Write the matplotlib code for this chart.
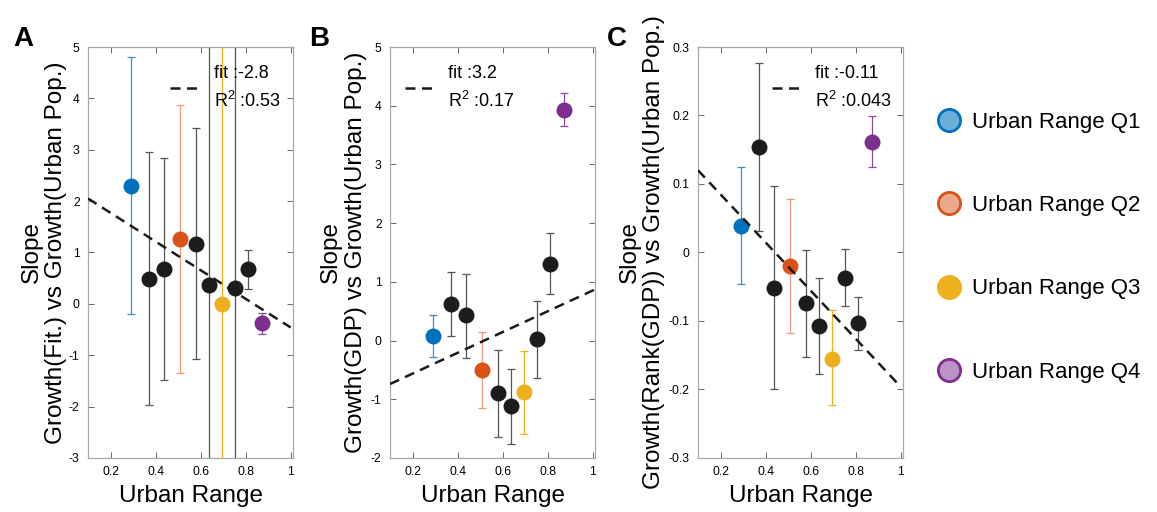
import matplotlib
matplotlib.use('Agg')
import matplotlib.pyplot as plt
from matplotlib.lines import Line2D
from matplotlib.ticker import FuncFormatter

plt.rcParams['font.family'] = ['Liberation Sans', 'DejaVu Sans']
plt.rcParams['axes.unicode_minus'] = False
plt.rcParams['mathtext.default'] = 'regular'

# x position of each bin (urban range) and which quartile it belongs to
urban_x = [0.289, 0.369, 0.437, 0.508, 0.578, 0.637, 0.695, 0.753, 0.809, 0.872]
group = ['Q1', 'n', 'n', 'Q2', 'n', 'n', 'Q3', 'n', 'n', 'Q4']

# panel A: Growth(Fit.) vs Growth(Urban Pop.)
a_y = [2.30, 0.49, 0.67, 1.26, 1.17, 0.37, 0.00, 0.30, 0.67, -0.38]
a_hi = [4.80, 2.96, 2.84, 3.87, 3.42, 9.0, 9.0, 9.0, 1.05, -0.17]
a_lo = [-0.20, -1.96, -1.49, -1.34, -1.08, -9.0, -9.0, -9.0, 0.28, -0.58]
a_fit_x = [0.1, 1.0]
a_fit_y = [2.05, -0.46]

# panel B: Growth(GDP) vs Growth(Urban Pop.)
b_y = [0.08, 0.63, 0.43, -0.50, -0.90, -1.12, -0.88, 0.02, 1.31, 3.93]
b_hi = [0.43, 1.16, 1.13, 0.14, -0.16, -0.49, -0.17, 0.68, 1.83, 4.22]
b_lo = [-0.28, 0.08, -0.29, -1.15, -1.65, -1.76, -1.60, -0.63, 0.79, 3.65]
b_fit_x = [0.1, 1.01]
b_fit_y = [-0.74, 0.87]

# panel C: Growth(Rank(GDP)) vs Growth(Urban Pop.)
c_y = [0.039, 0.154, -0.052, -0.019, -0.074, -0.108, -0.155, -0.037, -0.103, 0.162]
c_hi = [0.125, 0.277, 0.097, 0.078, 0.004, -0.037, -0.084, 0.005, -0.065, 0.199]
c_lo = [-0.046, 0.031, -0.200, -0.117, -0.153, -0.178, -0.223, -0.078, -0.142, 0.125]
c_fit_x = [0.1, 1.0]
c_fit_y = [0.12, -0.196]

fit_labels = ['fit :-2.8\nR$^2$ :0.53', 'fit :3.2\nR$^2$ :0.17', 'fit :-0.11\nR$^2$ :0.043']
ylabels = ['Slope\nGrowth(Fit.) vs Growth(Urban Pop.)',
           'Slope\nGrowth(GDP) vs Growth(Urban Pop.)',
           'Slope\nGrowth(Rank(GDP)) vs Growth(Urban Pop.)']
legend_names = ['Urban Range Q1', 'Urban Range Q2', 'Urban Range Q3', 'Urban Range Q4']

colors = {'Q1': '#0072BD', 'Q2': '#D95319', 'Q3': '#EDB120', 'Q4': '#7E2F8E', 'n': '#1c1c1c'}
ecolors = {'Q1': '#3a8fd0', 'Q2': '#ef9a78', 'Q3': '#EDB120', 'Q4': '#8e4a9c', 'n': '#555555'}
faces = {'Q1': '#6aaed9', 'Q2': '#eda98e', 'Q3': '#EDB120', 'Q4': '#bc93c6'}

fig = plt.figure(figsize=(11.57, 5.12), dpi=100)

lefts = [0.0761, 0.3371, 0.6033]
label_x = [-0.102, -0.114, -0.16]
leg_x = [0.40, 0.073, 0.358]
ylims = [(-3, 5), (-2, 5), (-0.3, 0.3)]
yticks = [list(range(-3, 6)), list(range(-2, 6)), [-0.3, -0.2, -0.1, 0, 0.1, 0.2, 0.3]]
letters = ['A', 'B', 'C']
letter_x = [13, 309, 607]

panels = [(a_y, a_hi, a_lo, a_fit_x, a_fit_y),
          (b_y, b_hi, b_lo, b_fit_x, b_fit_y),
          (c_y, c_hi, c_lo, c_fit_x, c_fit_y)]

for k, (ys, hi, lo, fx, fy) in enumerate(panels):
    ax = fig.add_axes([lefts[k], 0.1055, 0.1775, 0.8027])
    for i in range(len(urban_x)):
        g = group[i]
        ax.errorbar([urban_x[i]], [ys[i]], yerr=[[ys[i] - lo[i]], [hi[i] - ys[i]]],
                    fmt='none', ecolor=ecolors[g], elinewidth=0.9, capsize=3.2,
                    capthick=0.9, zorder=2)
        ax.plot(urban_x[i], ys[i], 'o', color=colors[g], markersize=11.5,
                markeredgewidth=0, zorder=3)
    ax.plot(fx, fy, color='#1a1a1a', linestyle=(0, (4, 2.6)), linewidth=1.8,
            label=fit_labels[k], zorder=4)

    ax.set_xlim(0.1, 1.012)
    ax.set_ylim(*ylims[k])
    ax.set_xticks([0.2, 0.4, 0.6, 0.8, 1.0])
    ax.set_yticks(yticks[k])
    ax.xaxis.set_major_formatter(FuncFormatter(lambda v, p: ('%g' % v)))
    ax.yaxis.set_major_formatter(FuncFormatter(lambda v, p: ('%g' % round(v, 3))))
    ax.tick_params(direction='in', length=4, width=0.7, labelsize=8.7, color='#666666',
                   top=True, right=True, pad=6)
    for s in ax.spines.values():
        s.set_color('#a8a8a8')
        s.set_linewidth(0.9)

    ax.set_xlabel('Urban Range', fontsize=17.5)
    ax.xaxis.set_label_coords(0.5, -0.066)
    ax.set_ylabel(ylabels[k], fontsize=17.5, linespacing=1.15)
    ax.yaxis.set_label_coords(label_x[k], 0.5)

    leg = ax.legend(loc='upper left', bbox_to_anchor=(leg_x[k], 0.955), frameon=False,
                    fontsize=13, handlelength=1.7, handletextpad=0.7, borderpad=0,
                    borderaxespad=0)
    for t in leg.get_texts():
        t.set_linespacing(1.5)

    fig.text(letter_x[k] / 1157, 1 - 26 / 512, letters[k], fontsize=20,
             fontweight='bold', va='top', ha='left')

handles = []
for q in ['Q1', 'Q2', 'Q3', 'Q4']:
    handles.append(Line2D([], [], linestyle='none', marker='o', markersize=16,
                          markerfacecolor=faces[q], markeredgecolor=colors[q],
                          markeredgewidth=2))
fig.legend(handles, legend_names, loc='center left', bbox_to_anchor=(0.8107, 0.517),
           frameon=False, fontsize=16, handlelength=1.0, handletextpad=0.55,
           labelspacing=2.8, borderpad=0, borderaxespad=0)

fig.savefig('out.png', dpi=100)
